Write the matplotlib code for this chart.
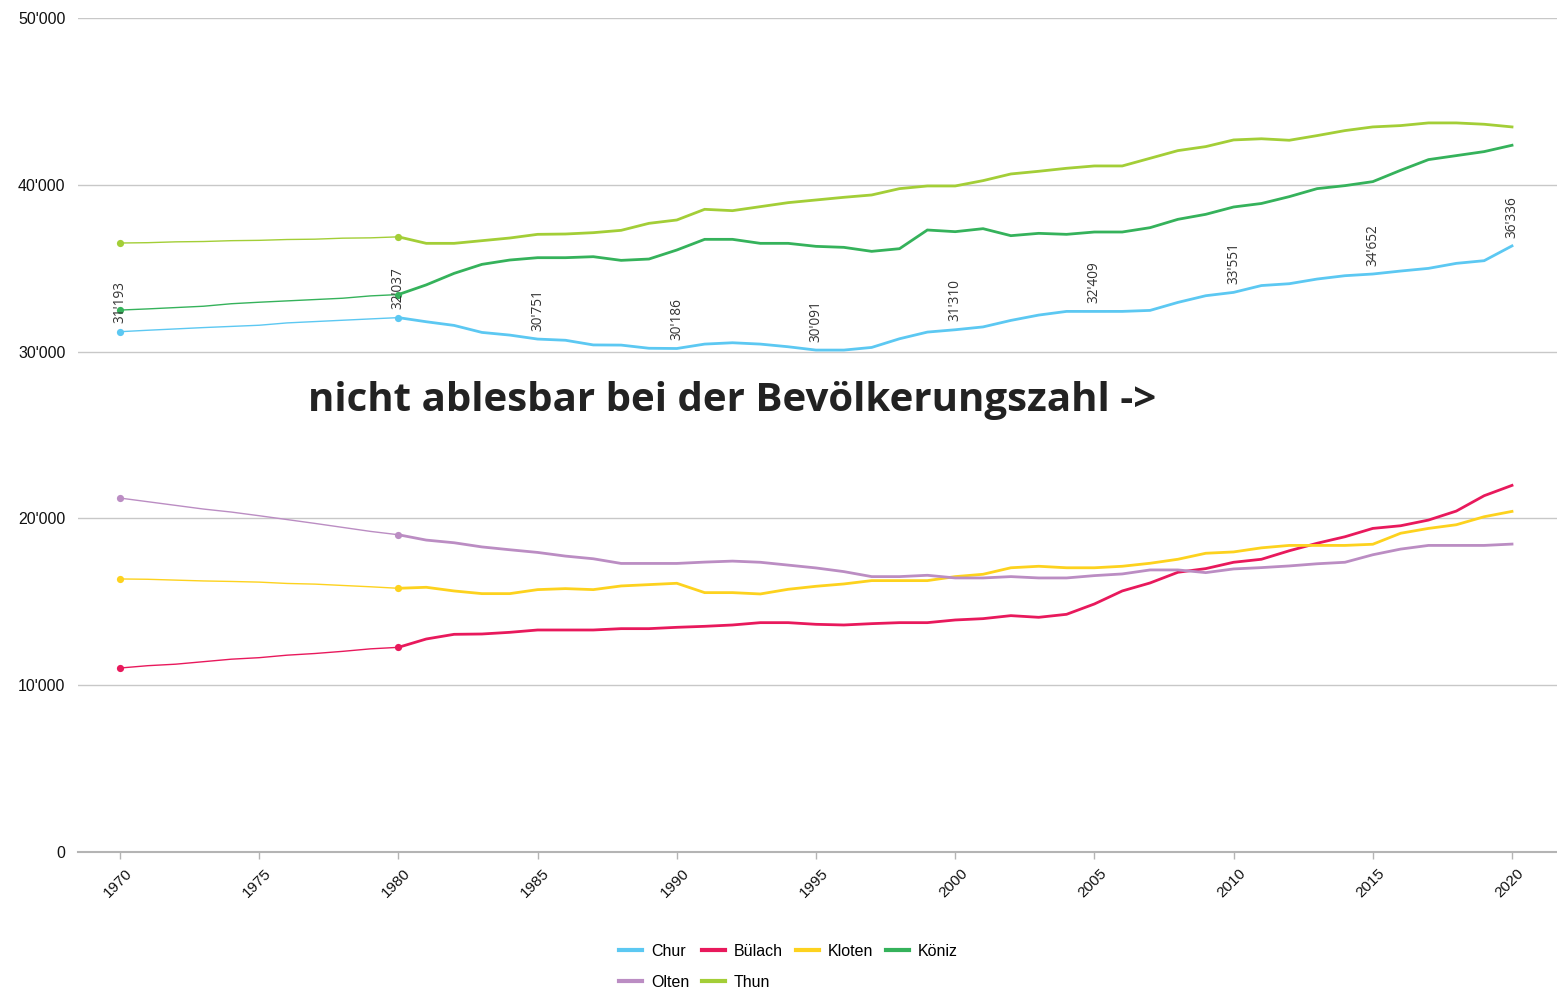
import numpy as np
import matplotlib
matplotlib.use("Agg")
import matplotlib.pyplot as plt
from matplotlib.ticker import FuncFormatter

years = list(range(1970, 2021))

chur = [31193, 31280, 31360, 31440, 31510, 31580, 31720, 31800, 31880, 31960,
        32037, 31790, 31570, 31150, 30990, 30751, 30680, 30400, 30390, 30200,
        30186, 30450, 30530, 30450, 30290, 30091, 30091, 30250, 30770, 31170,
        31310, 31480, 31870, 32190, 32410, 32409, 32410, 32470, 32950, 33350,
        33551, 33960, 34070, 34350, 34550, 34652, 34830, 34990, 35290, 35450,
        36336]
buelach = [11030, 11170, 11260, 11410, 11560, 11650, 11800, 11900, 12030, 12180,
           12270, 12770, 13050, 13070, 13170, 13310, 13310, 13310, 13390, 13390,
           13470, 13530, 13610, 13750, 13750, 13650, 13610, 13690, 13750, 13750,
           13910, 13990, 14170, 14070, 14250, 14870, 15650, 16130, 16770, 16990,
           17370, 17550, 18060, 18510, 18900, 19400, 19560, 19900, 20440, 21360,
           21980]
kloten = [16370, 16350, 16300, 16250, 16220, 16180, 16100, 16060, 15980, 15900,
          15810, 15870, 15650, 15490, 15490, 15730, 15790, 15730, 15950, 16030,
          16110, 15550, 15550, 15470, 15750, 15930, 16070, 16270, 16270, 16270,
          16510, 16650, 17040, 17130, 17040, 17040, 17130, 17310, 17550, 17910,
          17990, 18235, 18380, 18380, 18380, 18450, 19110, 19400, 19620, 20100,
          20420]
koeniz = [32490, 32560, 32640, 32720, 32870, 32960, 33040, 33120, 33200, 33340,
          33420, 34000, 34690, 35230, 35490, 35630, 35630, 35690, 35470, 35550,
          36090, 36730, 36730, 36490, 36490, 36310, 36250, 36010, 36170, 37290,
          37190, 37370, 36950, 37090, 37030, 37170, 37170, 37430, 37930, 38230,
          38670, 38880, 39290, 39770, 39950, 40190, 40870, 41510, 41750, 41990,
          42370]
olten = [21220, 21000, 20780, 20560, 20380, 20160, 19930, 19700, 19460, 19220,
         19020, 18700, 18540, 18290, 18120, 17960, 17740, 17580, 17300, 17300,
         17300, 17380, 17440, 17370, 17200, 17030, 16810, 16510, 16510, 16590,
         16430, 16430, 16510, 16430, 16430, 16570, 16670, 16910, 16910, 16750,
         16970, 17050, 17150, 17280, 17370, 17820, 18160, 18380, 18380, 18380,
         18460]
thun = [36510, 36530, 36580, 36600, 36650, 36670, 36720, 36740, 36800, 36820,
        36880, 36490, 36490, 36650, 36810, 37030, 37050, 37130, 37270, 37690,
        37890, 38530, 38450, 38690, 38930, 39090, 39250, 39390, 39770, 39930,
        39930, 40250, 40650, 40810, 40990, 41130, 41130, 41590, 42050, 42290,
        42690, 42760, 42670, 42950, 43250, 43470, 43550, 43710, 43710, 43630,
        43470]

names = ["Chur", "Bülach", "Kloten", "Köniz", "Olten", "Thun"]
series = [chur, buelach, kloten, koeniz, olten, thun]
colors = ["#5cc8f2", "#e8195c", "#fdd21e", "#35b25b", "#bb8dc3", "#a3ce37"]

label_years = [1970, 1980, 1985, 1990, 1995, 2000, 2005, 2010, 2015, 2020]
ytick_vals = [0, 10000, 20000, 30000, 40000, 50000]
xtick_vals = list(range(1970, 2021, 5))

big_text = "nicht ablesbar bei der Bevölkerungszahl ->"

def fmt(v):
    return f"{int(v):,}".replace(",", "'")

W, H = 1557, 999
fig = plt.figure(figsize=(W / 100, H / 100), dpi=100)
ax = fig.add_axes([78 / W, 1 - 852 / H, (1557 - 78) / W, (852 - 18) / H])

yrs = np.array(years)
split = years.index(1980)
handles = []
for name, vals, c in zip(names, series, colors):
    v = np.array(vals)
    ax.plot(yrs[:split + 1], v[:split + 1], color=c, lw=1.0, zorder=3,
            solid_capstyle="butt")
    h, = ax.plot(yrs[split:], v[split:], color=c, lw=2.0, zorder=3,
                 solid_joinstyle="miter")
    ax.plot([yrs[0], yrs[split]], [v[0], v[split]], "o", color=c, ms=5.2,
            zorder=4, mec="none")
    handles.append(h)

# annotations on Chur
for y in label_years:
    v = chur[years.index(y)]
    ax.annotate(fmt(v), (y, v), xytext=(0, 6), textcoords="offset points",
                rotation=90, ha="center", va="bottom", fontsize=9.8,
                family=["Open Sans", "DejaVu Sans"], color="#333333", zorder=5)

ax.set_xlim(1970 - 42 / 27.84, 2020 + 45 / 27.84)
ax.set_ylim(0, 50000)
ax.set_yticks(ytick_vals)
ax.yaxis.set_major_formatter(FuncFormatter(lambda v, p: fmt(v)))
ax.set_xticks(xtick_vals)
ax.grid(axis="y", color="#c8c8c8", lw=1.0, zorder=0)
for s in ["top", "right", "left"]:
    ax.spines[s].set_visible(False)
ax.spines["bottom"].set_color("#b4b4b4")
ax.spines["bottom"].set_linewidth(1.5)
ax.tick_params(axis="y", length=0, pad=9, labelsize=11.5, labelcolor="#111111")
ax.tick_params(axis="x", length=5, color="#b4b4b4", width=1, pad=5)
for lab in ax.get_yticklabels():
    lab.set_family(["Liberation Sans", "DejaVu Sans"])
for lab in ax.get_xticklabels():
    lab.set_family(["Liberation Sans", "DejaVu Sans"])
    lab.set_rotation(45)
    lab.set_ha("right")
    lab.set_va("top")
    lab.set_rotation_mode("anchor")
    lab.set_fontsize(11)
    lab.set_color("#111111")
    x0, y0 = lab.get_position()

import matplotlib.transforms as mtransforms
offset = mtransforms.ScaledTranslation(5 / 100, 0, fig.dpi_scale_trans)
for lab in ax.get_xticklabels():
    lab.set_transform(lab.get_transform() + offset)

ax.text(1970 + (308 - 120) / 27.84, 27050, big_text, ha="left", va="center",
        fontsize=29, fontweight="bold", family=["Open Sans", "DejaVu Sans"],
        color="#222222")

order = [0, 4, 1, 5, 2, 3]
leg = fig.legend([handles[i] for i in order], [names[i] for i in order],
                 loc="upper left", bbox_to_anchor=(619 / W, 1 - 944 / H),
                 ncol=4, frameon=False, handlelength=1.45,
                 handletextpad=0.55, columnspacing=0.8, labelspacing=1.0,
                 borderaxespad=0, borderpad=0,
                 prop={"family": ["Liberation Sans", "DejaVu Sans"], "size": 11.5})
for line in leg.get_lines():
    line.set_linewidth(3)

fig.savefig("out.png", dpi=100, facecolor="white")
